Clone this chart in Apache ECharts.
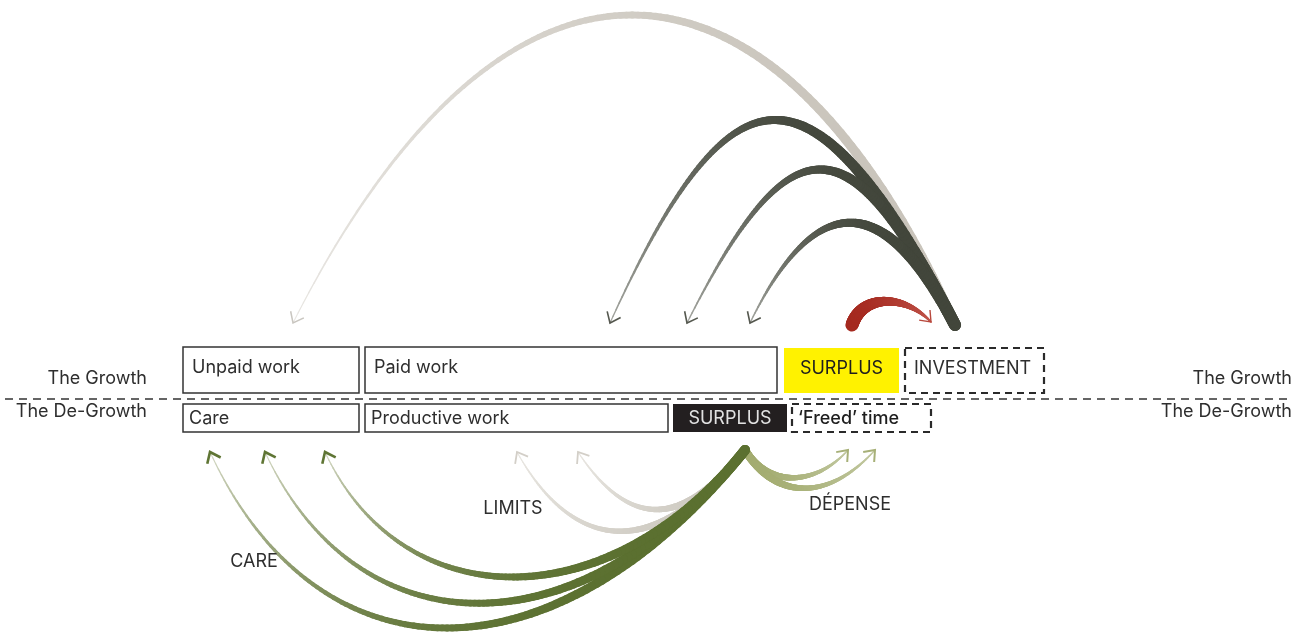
<!DOCTYPE html>
<html><head><meta charset="utf-8">
<script src="https://cdn.jsdelivr.net/npm/echarts@6/dist/echarts.min.js"></script>
<style>html,body{margin:0;padding:0;background:#fff}#c{width:1297px;height:637px}</style>
</head><body><div id="c"></div>
<script>
// ---------- DATA ----------
// Boxes (diagram units on a 1297 x 637 plane)
const boxNames  = ['Unpaid work','Paid work','SURPLUS','INVESTMENT','Care','Productive work','SURPLUS','\u2018Freed\u2019 time'];
const boxStart  = [183, 365, 784, 905, 183, 365, 673, 792];
const boxEnd    = [359, 777, 899, 1044, 359, 668, 787, 931];
const boxTop    = [347, 347, 348, 348, 404, 404, 404, 404];
const boxBottom = [393, 393, 393, 393, 432, 432, 432, 432];
const boxKind   = ['plain','plain','growthSurplus','future','plain','plain','degrowthSurplus','futureBold'];

// Row labels
const rowNames  = ['The Growth', 'The De-Growth'];
const rowY      = [379, 412];
const rowLeftX  = 147;
const rowRightX = 1292;
const dividerY  = 399;
const dividerX  = [5, 1293];

// Flow labels
const flowNames = ['LIMITS', 'CARE', 'D\u00C9PENSE'];
const flowX     = [513, 254, 850];
const flowY     = [509, 562, 505];

// Arrows: source, two control points, target
const arrowKind = ['investLight','invest','invest','invest','surplus','limits','limits','depense','depense','care','care','care'];
const arrowSX  = [955, 955, 955, 955, 852, 745, 745, 745, 745, 745, 745, 745];
const arrowSY  = [325, 325, 325, 325, 325, 450, 450, 450, 450, 450, 450, 450];
const arrowC1X = [770, 813, 850, 884, 862, 659, 682, 767, 776, 555, 582, 610];
const arrowC1Y = [-88,  52, 118, 189, 294, 558, 529, 487, 501, 687, 654, 619];
const arrowC2X = [500, 733, 790, 815, 905, 576, 629, 815, 829, 319, 359, 403];
const arrowC2Y = [-88,  52, 118, 189, 294, 558, 529, 487, 501, 687, 654, 619];
const arrowTX  = [293, 610, 687, 750, 931, 517, 578, 848, 875, 210, 265, 325];
const arrowTY  = [323, 323, 323, 323, 322, 452, 452, 450, 450, 452, 452, 452];

// ---------- STYLES ----------
const arrowStyle = {
  investLight: {c0:'#c9c4bb', c1:'#e8e6e2', w0:10, w1:1,   fade:2, head:'#c9c6c0', hw:1.5},
  invest:      {c0:'#42463b', c1:'#a4a6a0', w0:12, w1:1.2, fade:4, head:'#55584f', hw:1.6},
  surplus:     {c0:'#a52a20', c1:'#c0554b', w0:13, w1:1.5, fade:2, head:'#b8483d', hw:1.4},
  limits:      {c0:'#cdc9c0', c1:'#e8e6e1', w0:8,  w1:1,   fade:2, head:'#d3cfc8', hw:1.8},
  depense:     {c0:'#a3ac70', c1:'#c3c9a2', w0:8,  w1:1.2, fade:2, head:'#a7b078', hw:2},
  care:        {c0:'#5b7030', c1:'#d4d8c4', w0:10, w1:1,   fade:4, head:'#5f7534', hw:2.6}
};
const boxStyle = {
  plain:           {fill:'#ffffff', stroke:'#333333', dash:null,  lw:1.5, text:'#2e2e2e', align:'left',   weight:'normal'},
  growthSurplus:   {fill:'#fff200', stroke:null,      dash:null,  lw:0,   text:'#1e1e1e', align:'center', weight:'normal'},
  degrowthSurplus: {fill:'#231f20', stroke:null,      dash:null,  lw:0,   text:'#e2e2e2', align:'center', weight:'normal'},
  future:          {fill:'#ffffff', stroke:'#2a2a2a', dash:[7,5], lw:2.2, text:'#2e2e2e', align:'left',   weight:'normal'},
  futureBold:      {fill:'#ffffff', stroke:'#2a2a2a', dash:[7,5], lw:2.2, text:'#1e1e1e', align:'left',   weight:'500'}
};
const FONT = 'Inter, Roboto, "Liberation Sans", sans-serif';
const FS = 18;

// ---------- HELPERS ----------
function bez(P, t) {
  const u = 1 - t;
  const a = u*u*u, b = 3*u*u*t, c = 3*u*t*t, d = t*t*t;
  return [a*P[0][0]+b*P[1][0]+c*P[2][0]+d*P[3][0], a*P[0][1]+b*P[1][1]+c*P[2][1]+d*P[3][1]];
}
function hex(c){return [parseInt(c.slice(1,3),16),parseInt(c.slice(3,5),16),parseInt(c.slice(5,7),16)];}
function mix(c0, c1, t) {
  const a = hex(c0), b = hex(c1);
  return 'rgb(' + a.map((v,k)=>Math.round(v+(b[k]-v)*t)).join(',') + ')';
}

function renderArrow(params, api) {
  const i = api.value(8);
  const st = arrowStyle[arrowKind[i]];
  const P = [0,1,2,3].map(k => api.coord([api.value(2*k), api.value(2*k+1)]));
  const N = 120;
  const pts = [];
  for (let s = 0; s <= N; s++) pts.push(bez(P, s/N));
  const children = [];
  for (let s = 0; s < N; s++) {
    const t = (s + 0.5) / N;
    const w = st.w1 + (st.w0 - st.w1) * (1 - Math.pow(t, 1.5));
    children.push({
      type: 'line',
      shape: {x1: pts[s][0], y1: pts[s][1], x2: pts[s+1][0], y2: pts[s+1][1]},
      style: {stroke: mix(st.c0, st.c1, Math.pow(t, st.fade)), lineWidth: w, lineCap: 'round'},
      silent: true
    });
  }
  // open chevron head
  const tip = P[3];
  let dx = P[3][0] - P[2][0], dy = P[3][1] - P[2][1];
  const L = Math.hypot(dx, dy); dx /= L; dy /= L;
  const bx = -dx, by = -dy, len = 12, th = 38 * Math.PI / 180;
  const arm = sgn => [tip[0] + len*(bx*Math.cos(th) - sgn*by*Math.sin(th)),
                      tip[1] + len*(sgn*bx*Math.sin(th) + by*Math.cos(th))];
  children.push({
    type: 'polyline',
    shape: {points: [arm(1), tip, arm(-1)]},
    style: {stroke: st.head, lineWidth: st.hw, fill: null, lineJoin: 'miter'},
    silent: true
  });
  return {type: 'group', children};
}

function renderBox(params, api) {
  const i = api.value(4);
  const st = boxStyle[boxKind[i]];
  const p0 = api.coord([api.value(0), api.value(1)]);
  const p1 = api.coord([api.value(2), api.value(3)]);
  const h = p1[1] - p0[1];
  return {
    type: 'group',
    children: [
      {type: 'rect', shape: {x: p0[0], y: p0[1], width: p1[0]-p0[0], height: h},
       style: {fill: st.fill, stroke: st.stroke || null, lineWidth: st.lw, lineDash: st.dash || null}},
      {type: 'text',
       x: st.align === 'center' ? (p0[0]+p1[0])/2 : p0[0] + (h > 35 ? 9 : 6),
       y: h > 35 ? p0[1] + 21 : (p0[1]+p1[1])/2 + 1,
       style: {text: boxNames[i], fill: st.text, font: st.weight + ' ' + FS + 'px ' + FONT,
               align: st.align, verticalAlign: 'middle'}}
    ]
  };
}

function makeTextRenderer(names, align, size) {
  return function(params, api) {
    const p = api.coord([api.value(0), api.value(1)]);
    return {type: 'text', x: p[0], y: p[1],
      style: {text: names[api.value(2)], fill: '#2e2e2e',
              font: size + 'px ' + FONT, align: align, verticalAlign: 'middle'}};
  };
}

// ---------- CHART ----------
const chart = echarts.init(document.getElementById('c'), null, {renderer: 'canvas'});
const arrowData = arrowKind.map((k, i) => [arrowSX[i], arrowSY[i], arrowC1X[i], arrowC1Y[i], arrowC2X[i], arrowC2Y[i], arrowTX[i], arrowTY[i], i]);
const boxData = boxNames.map((n, i) => [boxStart[i], boxTop[i], boxEnd[i], boxBottom[i], i]);

chart.setOption({
  animation: false,
  backgroundColor: '#ffffff',
  grid: {left: 0, right: 0, top: 0, bottom: 0},
  xAxis: {type: 'value', min: 0, max: 1297, show: false},
  yAxis: {type: 'value', min: 0, max: 637, inverse: true, show: false},
  series: [
    {type: 'line', data: [[dividerX[0], dividerY], [dividerX[1], dividerY]], symbol: 'none', silent: true,
     lineStyle: {color: '#333333', width: 1.3, type: [8, 6]}, z: 1},
    {type: 'custom', renderItem: renderBox, data: boxData, clip: false, silent: true, z: 2},
    {type: 'custom', renderItem: renderArrow, data: arrowData, clip: false, silent: true, z: 3,
     encode: {x: 0, y: 1}},
    {type: 'custom', renderItem: makeTextRenderer(rowNames, 'right', FS), clip: false, silent: true, z: 4,
     data: rowNames.map((n, i) => [rowLeftX, rowY[i], i])},
    {type: 'custom', renderItem: makeTextRenderer(rowNames, 'right', FS), clip: false, silent: true, z: 4,
     data: rowNames.map((n, i) => [rowRightX, rowY[i], i])},
    {type: 'custom', renderItem: makeTextRenderer(flowNames, 'center', FS), clip: false, silent: true, z: 4,
     data: flowNames.map((n, i) => [flowX[i], flowY[i], i])}
  ]
});
</script></body></html>
